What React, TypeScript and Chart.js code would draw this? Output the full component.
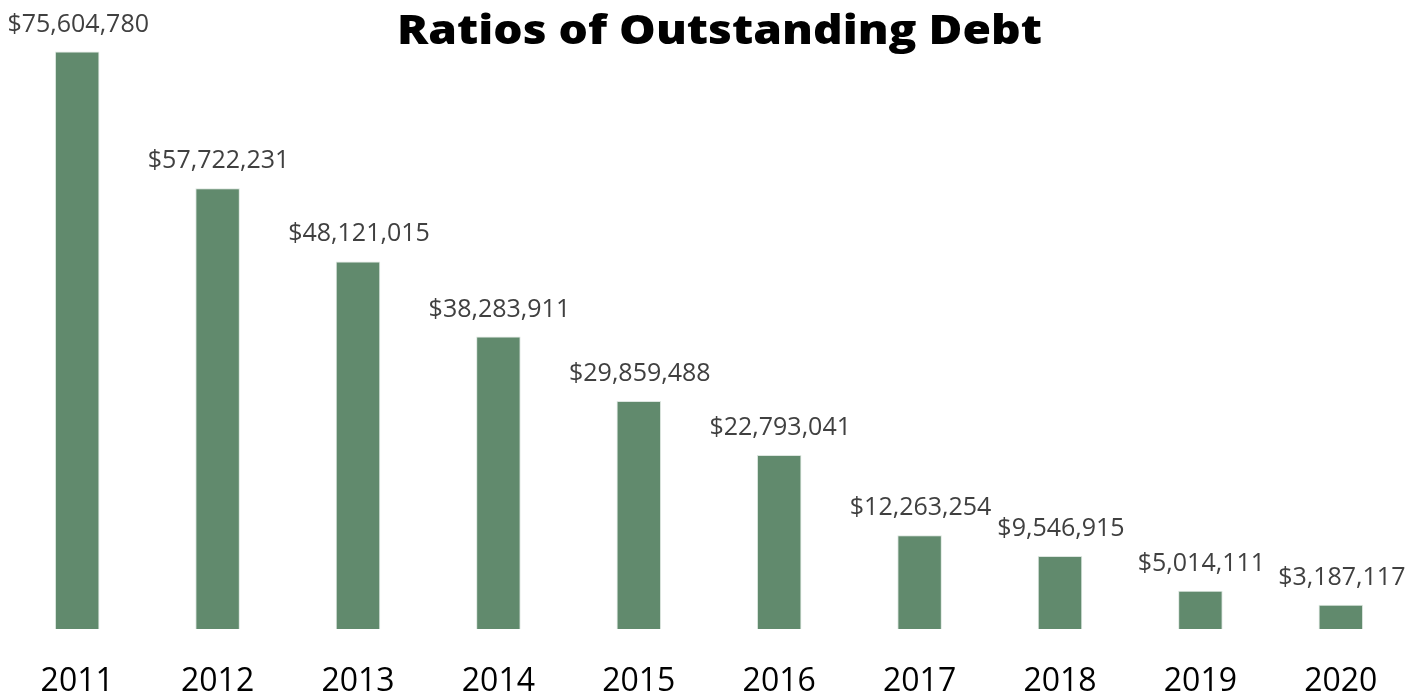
import React, { useEffect, useRef } from "react";
import { Chart, registerables } from "chart.js";

Chart.register(...registerables);

const years = ["2011", "2012", "2013", "2014", "2015", "2016", "2017", "2018", "2019", "2020"];
const debtValues = [75604780, 57722231, 48121015, 38283911, 29859488, 22793041, 12263254, 9546915, 5014111, 3187117];
const titleText = "Ratios of Outstanding Debt";

const fmt = (v: number) => "$" + v.toLocaleString("en-US");

const overlayPlugin = {
  id: "overlay",
  afterDatasetsDraw(chart: any) {
    const ctx = chart.ctx as CanvasRenderingContext2D;
    const meta = chart.getDatasetMeta(0);
    ctx.save();
    ctx.font = '400 25px "Open Sans"';
    ctx.fillStyle = "#404040";
    ctx.textAlign = "center";
    ctx.textBaseline = "alphabetic";
    meta.data.forEach((bar: any, i: number) => {
      ctx.fillText(fmt(debtValues[i]), bar.x + 1, bar.y - 20);
    });
    ctx.restore();

    ctx.save();
    ctx.font = '800 40px "Open Sans"';
    ctx.fillStyle = "#000000";
    ctx.textAlign = "center";
    ctx.textBaseline = "alphabetic";
    const w = ctx.measureText(titleText).width;
    const sx = 645 / w;
    ctx.translate(719.5, 44);
    ctx.scale(sx, 1);
    ctx.fillText(titleText, 0, 0);
    ctx.restore();
  },
};

export default function App() {
  const ref = useRef<HTMLCanvasElement | null>(null);
  useEffect(() => {
    document.body.style.margin = "0";
    if (!ref.current) return;
    const chart = new Chart(ref.current, {
      type: "bar",
      data: {
        labels: years,
        datasets: [
          {
            data: debtValues,
            backgroundColor: "#618A6D",
            borderColor: "#DDE6E0",
            borderWidth: 1,
            categoryPercentage: 1,
            barPercentage: 0.317,
          },
        ],
      },
      options: {
        animation: false,
        responsive: true,
        maintainAspectRatio: false,
        layout: { padding: { top: 18, left: 7, right: 13, bottom: -37.4 } },
        plugins: { legend: { display: false }, tooltip: { enabled: false }, title: { display: false } },
        scales: {
          x: {
            grid: { display: false, drawTicks: false },
            border: { display: false },
            ticks: {
              color: "#000000",
              font: { family: '"Open Sans"', size: 32, weight: "400" },
              padding: 34,
            },
          },
          y: { display: false, min: 0, max: 80000000 },
        },
      },
      plugins: [overlayPlugin],
    });
    return () => chart.destroy();
  }, []);
  return (
    <div style={{ width: 1424, height: 698, position: "relative" }}>
      <canvas ref={ref} />
    </div>
  );
}
